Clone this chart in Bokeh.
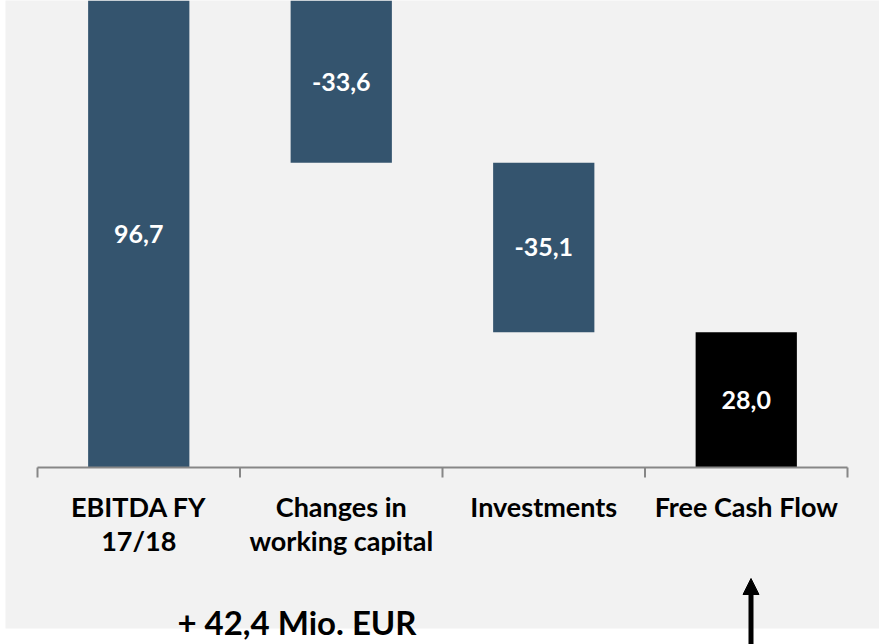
from bokeh.plotting import figure
from bokeh.models import Range1d, ColumnDataSource, Arrow, NormalHead
from bokeh.core.properties import value
from bokeh.embed import file_html
from bokeh.resources import INLINE

# ---- data ----
categories = ["EBITDA FY\n17/18", "Changes in\nworking capital", "Investments", "Free Cash Flow"]
values = [96.7, -33.6, -35.1, 28.0]
value_labels = ["96,7", "-33,6", "-35,1", "28,0"]
is_total = [False, False, False, True]
delta_text = "+ 42,4 Mio. EUR"

BAR = "#34546e"
BG = "#f2f2f2"
AXIS = "#878787"
FONT = "Lato"

W, H = 879, 644
PX_X = 202.5          # pixels per category
PX_Y = 4.83           # pixels per value unit
X0_PX, Y0_PX = 37, 467  # pixel position of the axis origin

def dx(px):  # pixel column -> x data
    return (px - X0_PX) / PX_X

def dy(px):  # pixel row -> y data
    return (Y0_PX - px) / PX_Y

n = len(categories)

# waterfall geometry from values
bottoms, tops = [], []
run = 0.0
for v, tot in zip(values, is_total):
    if tot:
        bottoms.append(0.0)
        tops.append(v)
        run = v
    else:
        start = run
        run = run + v
        bottoms.append(min(start, run))
        tops.append(max(start, run))

xs = [i + 0.5 for i in range(n)]
colors = ["#000000" if t else BAR for t in is_total]
mids = [(b + t) / 2 for b, t in zip(bottoms, tops)]

src = ColumnDataSource(dict(x=xs, bottom=bottoms, top=tops, color=colors,
                            mid=mids, lab=value_labels))

p = figure(width=W, height=H, output_backend="svg", toolbar_location=None,
           x_range=Range1d(dx(0), dx(W)), y_range=Range1d(dy(H), dy(0)),
           x_axis_type=None, y_axis_type=None,
           min_border=0)
p.background_fill_color = "white"
p.border_fill_color = "white"
p.outline_line_color = None
p.xgrid.visible = False
p.ygrid.visible = False

# grey panel
p.quad(left=[dx(5)], right=[dx(W + 10)], top=[dy(-10)], bottom=[dy(628)],
       fill_color=BG, line_color=None)

# bars
p.vbar(x="x", bottom="bottom", top="top", width=0.5, fill_color="color",
       line_color=None, source=src)

p.text(x="x", y="mid", text="lab", source=src, text_color="white",
       text_font=value(FONT), text_font_style="bold", text_font_size="25px",
       text_align="center", text_baseline="middle")

# category axis (line + boundary ticks)
p.line(x=[0, n], y=[0, 0], line_color=AXIS, line_width=2)
p.segment(x0=list(range(n + 1)), y0=[0] * (n + 1), x1=list(range(n + 1)),
          y1=[dy(Y0_PX + 10)] * (n + 1), line_color=AXIS, line_width=2)

# category labels, one glyph row per text line
lx, ly, lt = [], [], []
for x, c in zip(xs, categories):
    for j, line in enumerate(c.split("\n")):
        lx.append(x)
        ly.append(dy(506 + 34 * j))
        lt.append(line)
p.text(x=lx, y=ly, text=lt, text_color="black", text_font=value(FONT),
       text_font_style="bold", text_font_size="27px", text_align="center",
       text_baseline="middle")

# bottom note and arrow
p.text(x=[dx(296.5)], y=[dy(621)], text=[delta_text], text_color="black",
       text_font=value(FONT), text_font_style="bold", text_font_size="33px",
       text_align="center", text_baseline="middle")

p.add_layout(Arrow(x_start=dx(750.5), y_start=dy(H + 10), x_end=dx(750.5), y_end=dy(578),
                   line_width=5, line_color="black",
                   end=NormalHead(size=16, fill_color="black", line_color="black", line_width=1)))

open("out.html", "w").write(file_html(p, INLINE))
